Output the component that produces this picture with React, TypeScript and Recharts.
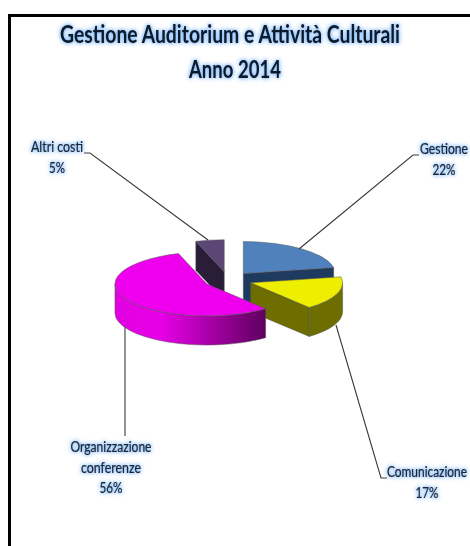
import { Pie, PieChart } from "recharts";

const SLICE_NAMES = ["Altri costi", "Gestione", "Comunicazione", "Organizzazione conferenze"];
const SLICE_VALUES = [5, 22, 17, 56];
const TITLE_LINES = ["Gestione Auditorium e Attività Culturali", "Anno 2014"];

const FONT = "Lato, 'Open Sans', sans-serif";
const GLOW = "drop-shadow(0 0 2px #86bcfa) drop-shadow(0 0 1.5px #a4cdfb)";

const TILT = 32 / 92; // how flat the pie ellipse is
const DEPTH = 29;
const EXPLODE = 24;
const RAD = Math.PI / 180;

const SKINS: Record<string, { top: string; wall: string; curve?: string }> = {
  "Altri costi": { top: "#5b4676", wall: "#291d38" },
  Gestione: { top: "#4f81bd", wall: "#1f3a5f" },
  Comunicazione: { top: "#eeee00", wall: "#6d6d00" },
  "Organizzazione conferenze": { top: "#ee00ee", wall: "#5e005e", curve: "url(#magentaWall)" },
};

// label text, anchor x, first baseline y, and the leader line points
const LABELS: Record<string, { lines: string[]; x: number; y: number; widths: number[]; leader: string }> = {
  "Altri costi": { lines: ["Altri costi", "5%"], x: 57, y: 152, widths: [52, 16], leader: "208,240 90,153 84,153" },
  Gestione: { lines: ["Gestione", "22%"], x: 444, y: 154, widths: [48, 23], leader: "299,249 413,155 419,155" },
  Comunicazione: { lines: ["Comunicazione", "17%"], x: 427, y: 477, widths: [80, 23], leader: "336,325 381,478 387,478" },
  "Organizzazione conferenze": {
    lines: ["Organizzazione", "conferenze", "56%"],
    x: 111,
    y: 452,
    widths: [81, 60, 23],
    leader: "125,327 125,436",
  },
};

const Wedge3D = (props: any) => {
  const { cx, cy, outerRadius: r, startAngle, endAngle, midAngle, name } = props;
  const skin = SKINS[name];
  const ry = r * TILT;
  // clockwise degrees from twelve o'clock
  const a1 = 90 - startAngle;
  const a2 = 90 - endAngle;
  const mid = (90 - midAngle) * RAD;
  const ox = cx + EXPLODE * Math.sin(mid);
  const oy = cy - EXPLODE * Math.cos(mid) * TILT;
  const px = (a: number) => ox + r * Math.sin(a * RAD);
  const py = (a: number) => oy - ry * Math.cos(a * RAD);
  const large = a2 - a1 > 180 ? 1 : 0;

  const radialWall = (a: number) =>
    `M${ox},${oy} L${px(a)},${py(a)} L${px(a)},${py(a) + DEPTH} L${ox},${oy + DEPTH} Z`;

  const c1 = Math.max(a1, 90);
  const c2 = Math.min(a2, 270);

  return (
    <g stroke="#555" strokeWidth={0.5} strokeLinejoin="round">
      <defs>
        <linearGradient id="magentaWall" x1="0" x2="1" y1="0" y2="0">
          <stop offset="0" stopColor="#e000e0" />
          <stop offset="0.3" stopColor="#e800e8" />
          <stop offset="1" stopColor="#5e005e" />
        </linearGradient>
      </defs>
      {Math.sin(a1 * RAD) < 0 && <path d={radialWall(a1)} fill={skin.wall} />}
      {Math.sin(a2 * RAD) > 0 && <path d={radialWall(a2)} fill={skin.wall} />}
      {c2 > c1 && (
        <path
          d={`M${px(c1)},${py(c1)} A${r},${ry} 0 0 1 ${px(c2)},${py(c2)} L${px(c2)},${py(c2) + DEPTH} A${r},${ry} 0 0 0 ${px(c1)},${py(c1) + DEPTH} Z`}
          fill={skin.curve ?? skin.wall}
        />
      )}
      <path
        d={`M${ox},${oy} L${px(a1)},${py(a1)} A${r},${ry} 0 ${large} 1 ${px(a2)},${py(a2)} Z`}
        fill={skin.top}
      />
    </g>
  );
};

const SliceLabel = (props: any) => {
  const spec = LABELS[props.name];
  return (
    <g>
      <polyline points={spec.leader} fill="none" stroke="#3a3a3a" strokeWidth={1.1} />
      {spec.lines.map((line, i) => (
        <text
          key={line}
          x={spec.x}
          y={spec.y + i * 20.5}
          textAnchor="middle"
          textLength={spec.widths[i]}
          lengthAdjust="spacingAndGlyphs"
          fontFamily={FONT}
          fontSize={15}
          fill="#1a2433"
          stroke="#1a2433"
          strokeWidth={0.2}
          style={{ filter: GLOW }}
        >
          {line}
        </text>
      ))}
    </g>
  );
};

const data = SLICE_NAMES.map((name, i) => ({ name, value: SLICE_VALUES[i] }));

export default function App() {
  return (
    <div style={{ position: "absolute", left: 0, top: 0, width: 470, height: 546, background: "#fff", overflow: "hidden" }}>
      <div style={{ position: "absolute", left: 8, top: 14, width: 470, height: 540, borderLeft: "3px solid #000", borderTop: "3px solid #000" }} />
      <div style={{ position: "absolute", left: 0, top: 0 }}>
        <PieChart width={470} height={546} margin={{ top: 0, right: 0, bottom: 0, left: 0 }}>
          <text x={230} y={43} textAnchor="middle" textLength={340} lengthAdjust="spacingAndGlyphs" fontFamily={FONT} fontWeight={700} fontSize={24} fill="#0c1a2a" style={{ filter: GLOW }}>
            {TITLE_LINES[0]}
          </text>
          <text x={235} y={78} textAnchor="middle" textLength={92} lengthAdjust="spacingAndGlyphs" fontFamily={FONT} fontWeight={700} fontSize={24} fill="#0c1a2a" style={{ filter: GLOW }}>
            {TITLE_LINES[1]}
          </text>
          <Pie
            data={data}
            dataKey="value"
            nameKey="name"
            cx={228}
            cy={280}
            innerRadius={0}
            outerRadius={92}
            startAngle={108}
            endAngle={-252}
            stroke="none"
            shape={Wedge3D}
            label={SliceLabel}
            labelLine={false}
            isAnimationActive={false}
          />
        </PieChart>
      </div>
    </div>
  );
}
